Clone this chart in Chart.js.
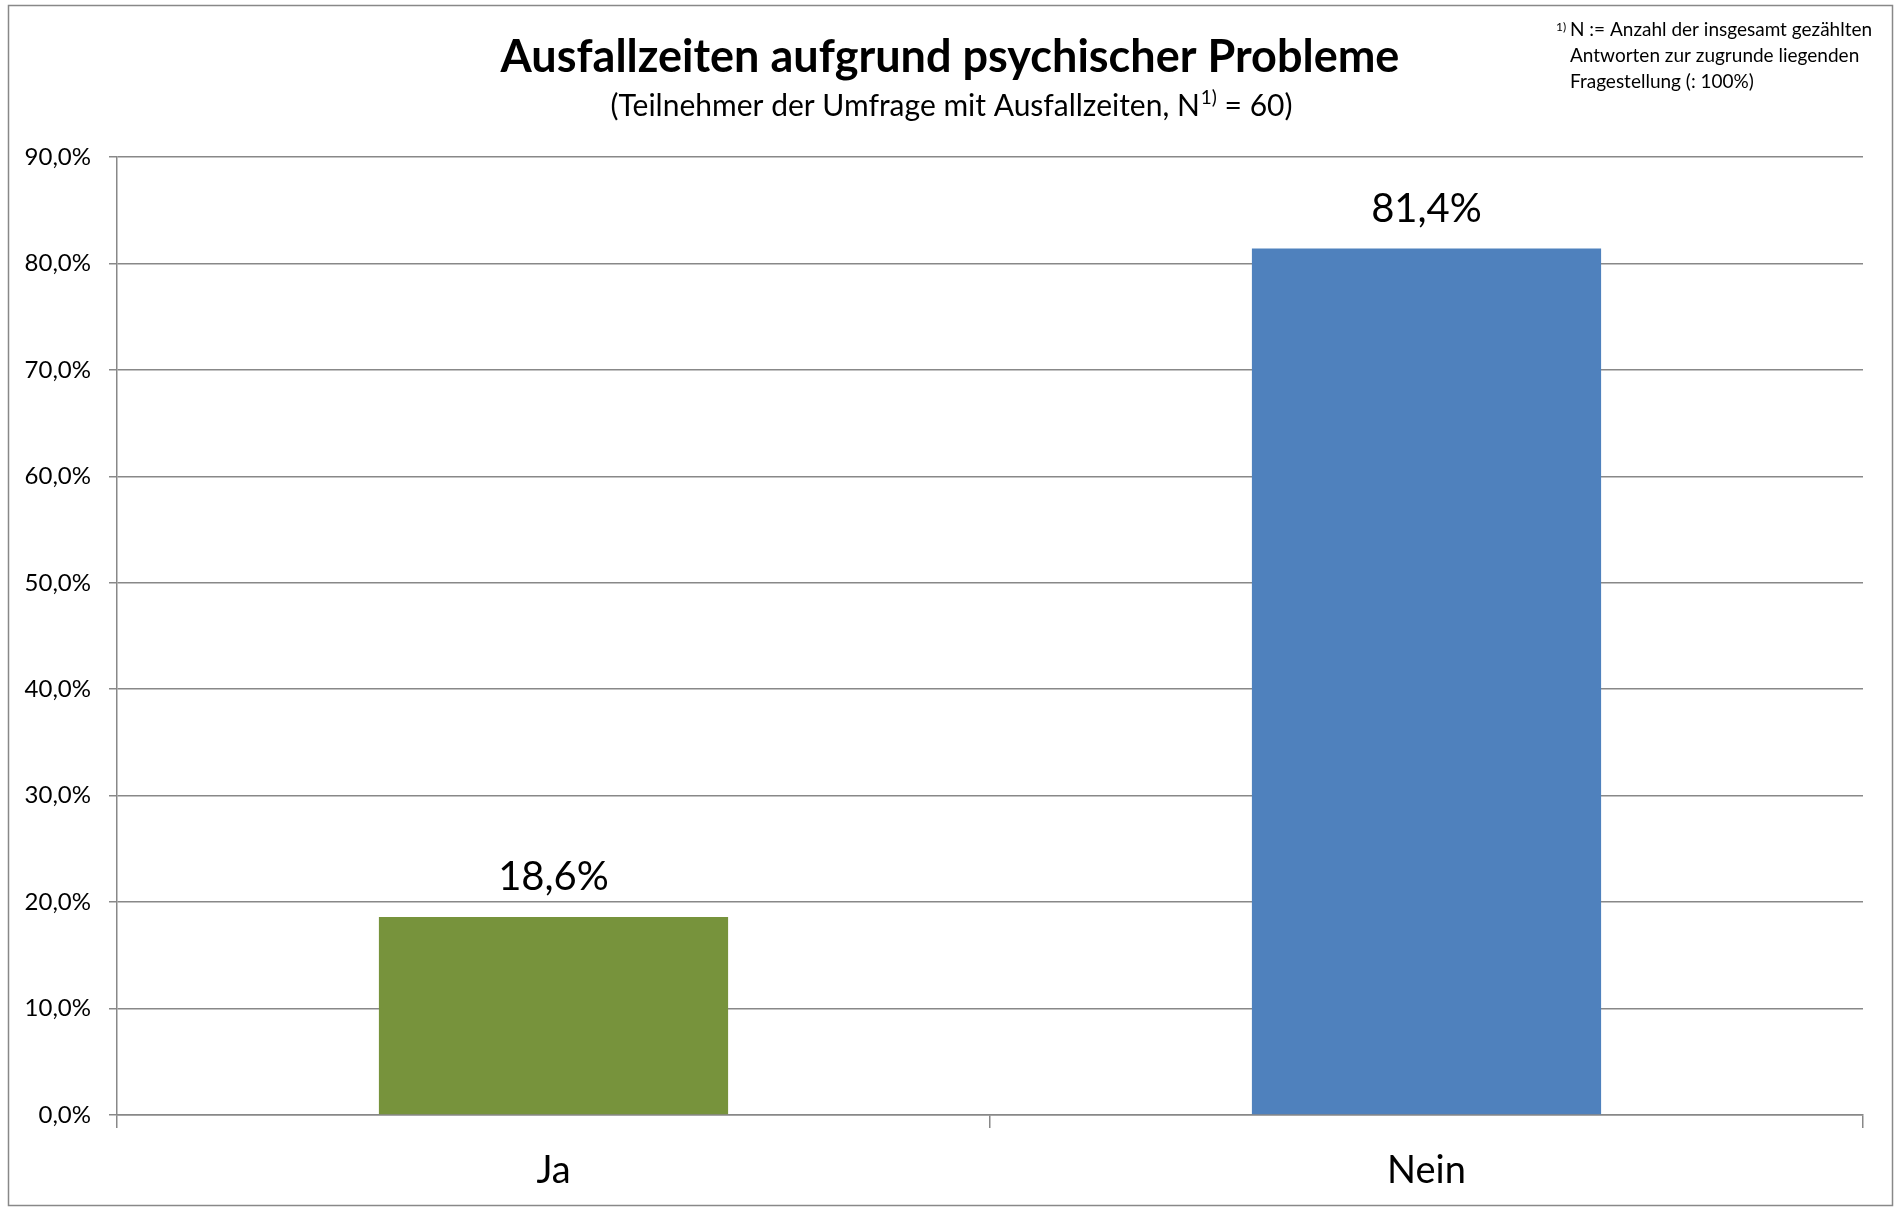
<!DOCTYPE html>
<html lang="de">
<head>
<meta charset="utf-8">
<title>Ausfallzeiten aufgrund psychischer Probleme</title>
<script src="https://cdn.jsdelivr.net/npm/chart.js@4.4.1/dist/chart.umd.min.js"></script>
<style>
  body { margin: 0; background: #ffffff; }
  #chart { display: block; }
</style>
</head>
<body>
<canvas id="chart" width="1894" height="1207"></canvas>
<script>
'use strict';

// Data
const categories = ['Ja', 'Nein'];
const shares = [18.6, 81.4];
const barColors = ['#77933c', '#4f81bd'];
const yTicks = [0, 10, 20, 30, 40, 50, 60, 70, 80, 90];

const titleText = 'Ausfallzeiten aufgrund psychischer Probleme';
const subtitleParts = ['(Teilnehmer der Umfrage mit Ausfallzeiten, N', '1)', ' = 60)'];
const footnoteLines = ['N := Anzahl der insgesamt gezählten', 'Antworten zur zugrunde liegenden', 'Fragestellung (: 100%)'];

const FONT = 'Lato, "Open Sans", sans-serif';
const GRID = '#888888';

function formatPercent(v) {
  return v.toFixed(1).replace('.', ',') + '%';
}

// title, subtitle, footnote and frame
const textPlugin = {
  id: 'texts',
  afterDraw(chart) {
    let ctx = chart.ctx;
    ctx.save();

    // outer frame
    ctx.strokeStyle = GRID;
    ctx.lineWidth = 1.5;
    ctx.strokeRect(8.5, 5.5, 1884, 1200);

    ctx.fillStyle = '#000000';
    ctx.textBaseline = 'alphabetic';

    // title
    ctx.font = 'bold 45px ' + FONT;
    ctx.textAlign = 'center';
    ctx.fillText(titleText, 950, 72);

    // subtitle with superscript
    let bigFont = '30px ' + FONT;
    let smallFont = '19px ' + FONT;
    ctx.font = bigFont;
    let w1 = ctx.measureText(subtitleParts[0]).width;
    let w3 = ctx.measureText(subtitleParts[2]).width;
    ctx.font = smallFont;
    let w2 = ctx.measureText(subtitleParts[1]).width;
    let x = 951 - (w1 + w2 + w3) / 2;
    ctx.textAlign = 'left';
    ctx.font = bigFont;
    ctx.fillText(subtitleParts[0], x, 116);
    ctx.font = smallFont;
    ctx.fillText(subtitleParts[1], x + w1 + 1, 104);
    ctx.font = bigFont;
    ctx.fillText(subtitleParts[2], x + w1 + w2 + 1, 116);

    // footnote top right (clipped by the frame)
    ctx.beginPath();
    ctx.rect(9, 6, 1883, 1198);
    ctx.clip();
    ctx.font = '12px ' + FONT;
    ctx.fillText('1)', 1556, 31);
    ctx.font = '19px ' + FONT;
    ctx.fillText(footnoteLines[0], 1570, 36);
    ctx.fillText(footnoteLines[1], 1570, 62);
    ctx.fillText(footnoteLines[2], 1570, 88);

    ctx.restore();
  }
};

// value labels above bars
const valueLabels = {
  id: 'valueLabels',
  afterDatasetsDraw(chart) {
    let ctx = chart.ctx;
    let meta = chart.getDatasetMeta(0);
    ctx.save();
    ctx.font = '40px ' + FONT;
    ctx.fillStyle = '#000000';
    ctx.textAlign = 'center';
    ctx.textBaseline = 'alphabetic';
    for (let i = 0; i < meta.data.length; i++) {
      let bar = meta.data[i];
      ctx.fillText(formatPercent(shares[i]), bar.x, bar.y - 27);
    }
    ctx.restore();
  }
};

const ctx = document.getElementById('chart').getContext('2d');

let myChart = new Chart(ctx, {
  type: 'bar',
  data: {
    labels: categories,
    datasets: [{
      data: shares,
      backgroundColor: barColors,
      borderWidth: 0,
      barPercentage: 0.4,
      categoryPercentage: 1
    }]
  },
  options: {
    responsive: false,
    animation: false,
    layout: {
      padding: { top: 157, right: 31, bottom: 0, left: 0 }
    },
    plugins: {
      legend: { display: false },
      tooltip: { enabled: false }
    },
    scales: {
      x: {
        offset: true,
        grid: {
          offset: true,
          drawOnChartArea: false,
          drawTicks: true,
          tickLength: 13,
          color: GRID,
          lineWidth: 1.5
        },
        border: { display: true, color: GRID, width: 1.5 },
        ticks: {
          color: '#000000',
          font: { family: FONT, size: 38 },
          padding: 20
        },
        afterFit(scale) {
          scale.height = 92;
        }
      },
      y: {
        min: 0,
        max: 90,
        afterBuildTicks(scale) {
          scale.ticks = yTicks.map(v => ({ value: v }));
        },
        grid: {
          color: GRID,
          lineWidth: 1.5,
          tickLength: 8
        },
        border: { display: true, color: GRID, width: 1.5 },
        ticks: {
          color: '#000000',
          font: { family: FONT, size: 24 },
          padding: 18,
          callback: v => formatPercent(v)
        },
        afterFit(scale) {
          scale.width = 117;
        }
      }
    }
  },
  plugins: [textPlugin, valueLabels]
});
</script>
</body>
</html>
